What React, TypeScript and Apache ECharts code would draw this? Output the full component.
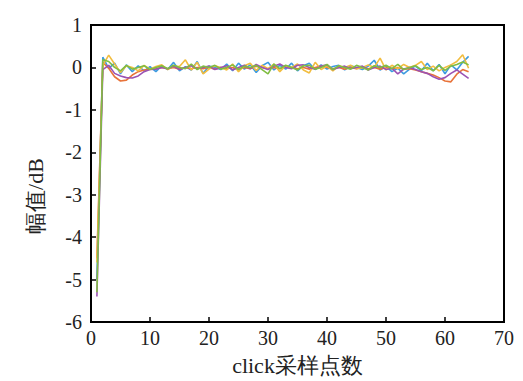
import React, { useEffect, useRef } from "react";
import * as echarts from "echarts";

const xValues: number[] = Array.from({ length: 64 }, (_, i) => i + 1);
const xTicks = [0, 10, 20, 30, 40, 50, 60, 70];
const yTicks = [-6, -5, -4, -3, -2, -1, 0, 1];

const blue = [-5.0, 0.24, -0.02, 0.1, -0.15, 0.06, -0.1, 0.04, -0.08, 0.02, -0.1, 0.04, -0.05, 0.12, -0.08, 0.02, -0.06, 0.14, -0.14, 0.03, 0.0, -0.05, 0.08, -0.08, 0.1, -0.04, 0.06, -0.12, 0.04, 0.12, -0.06, 0.05, -0.04, 0.1, -0.08, 0.04, 0.1, -0.05, 0.06, -0.04, 0.02, 0.05, -0.06, 0.04, 0.0, -0.05, 0.03, 0.17, -0.06, 0.03, -0.1, -0.02, -0.15, -0.04, 0.03, -0.08, 0.1, -0.08, 0.07, -0.15, 0.06, -0.06, 0.12, 0.26];
const yellow = [-4.6, 0.05, 0.29, 0.08, -0.12, 0.04, 0.0, -0.08, 0.05, -0.04, 0.02, 0.06, -0.05, 0.03, 0.02, 0.18, -0.06, 0.12, -0.15, -0.04, 0.04, 0.0, -0.06, 0.08, -0.1, 0.04, 0.1, -0.07, 0.05, -0.03, 0.08, -0.1, 0.04, 0.0, 0.08, -0.06, -0.13, 0.12, -0.05, 0.03, -0.08, 0.04, 0.0, 0.05, -0.03, 0.0, 0.06, 0.0, 0.22, -0.06, 0.05, -0.03, 0.07, 0.0, 0.05, 0.14, -0.05, 0.03, -0.08, 0.0, 0.06, 0.14, 0.3, -0.02];
const green = [-5.3, 0.18, 0.14, 0.0, -0.08, 0.05, -0.04, 0.0, 0.04, -0.05, 0.0, 0.04, -0.03, 0.05, 0.0, -0.03, 0.08, -0.05, 0.03, 0.0, 0.05, -0.04, 0.0, 0.06, -0.05, 0.03, 0.0, 0.05, -0.05, -0.15, 0.08, -0.03, 0.05, 0.0, -0.06, 0.04, 0.05, -0.04, 0.0, 0.07, -0.05, 0.04, 0.0, -0.04, 0.05, 0.0, -0.06, 0.04, 0.0, 0.05, -0.03, 0.07, -0.05, 0.0, 0.04, -0.05, 0.0, -0.08, 0.05, -0.07, 0.03, 0.07, 0.13, 0.06];
const purple = [-5.4, -0.05, 0.05, -0.14, -0.2, -0.24, -0.25, -0.2, -0.1, -0.05, -0.04, 0.0, -0.03, 0.03, -0.05, 0.0, 0.04, -0.03, 0.0, 0.03, -0.05, 0.0, 0.04, -0.06, 0.0, 0.05, -0.03, 0.07, 0.0, -0.05, 0.03, 0.08, 0.0, -0.03, 0.05, 0.06, 0.0, -0.04, 0.03, 0.06, -0.05, 0.0, 0.03, -0.03, 0.0, 0.03, -0.06, 0.0, 0.03, -0.05, -0.02, -0.15, -0.04, 0.0, -0.05, -0.1, -0.14, -0.22, -0.28, -0.24, -0.14, -0.06, -0.16, -0.26];
const orange = [-4.5, 0.12, -0.02, -0.22, -0.32, -0.3, -0.18, -0.1, -0.06, -0.04, -0.03, 0.0, -0.03, 0.0, -0.04, 0.0, -0.03, 0.0, -0.03, 0.0, -0.04, 0.0, -0.03, 0.0, -0.04, 0.0, -0.03, 0.03, 0.0, -0.03, 0.0, -0.03, 0.03, 0.0, -0.03, 0.0, -0.04, 0.0, 0.03, 0.0, -0.03, 0.0, -0.04, 0.0, -0.03, 0.0, -0.03, 0.0, -0.04, 0.0, -0.03, 0.0, -0.04, -0.03, -0.06, -0.1, -0.14, -0.18, -0.24, -0.32, -0.34, -0.16, -0.05, -0.1];

const seriesDefs = [
  { name: "s1", data: blue, color: "#3d9be0" },
  { name: "s2", data: orange, color: "#e8733a" },
  { name: "s3", data: yellow, color: "#f2bd3f" },
  { name: "s4", data: purple, color: "#9b52b3" },
  { name: "s5", data: green, color: "#80bd42" },
];

export default function App() {
  const ref = useRef<HTMLDivElement>(null);
  useEffect(() => {
    const chart = echarts.init(ref.current!, null, { renderer: "svg" });
    const font = "'Liberation Serif', 'Times New Roman', serif";
    chart.setOption({
      animation: false,
      backgroundColor: "#ffffff",
      textStyle: { fontFamily: font },
      grid: { left: 91, top: 25, right: 19, bottom: 53, show: true, borderColor: "#000", borderWidth: 2, backgroundColor: "transparent" },
      xAxis: {
        type: "value",
        min: xTicks[0],
        max: xTicks[xTicks.length - 1],
        interval: 10,
        name: "click采样点数",
        nameLocation: "middle",
        nameGap: 32,
        nameTextStyle: { fontFamily: font, fontSize: 22, color: "#222" },
        axisLine: { onZero: false, lineStyle: { color: "#000", width: 2 } },
        axisTick: { inside: true, length: 5, lineStyle: { color: "#000", width: 1.5 } },
        axisLabel: { fontFamily: font, fontSize: 20, color: "#222", margin: 6 },
        splitLine: { show: false },
      },
      yAxis: {
        type: "value",
        min: yTicks[0],
        max: yTicks[yTicks.length - 1],
        interval: 1,
        axisLine: { onZero: false, lineStyle: { color: "#000", width: 2 } },
        axisTick: { inside: true, length: 5, lineStyle: { color: "#000", width: 1.5 } },
        axisLabel: { fontFamily: font, fontSize: 20, color: "#222", margin: 9 },
        splitLine: { show: false },
      },
      graphic: [
        {
          type: "text",
          x: 35,
          y: 196,
          rotation: Math.PI / 2,
          style: { text: "幅值/dB", font: `22px ${font}`, fill: "#222", align: "center", verticalAlign: "middle" },
        },
      ],
      series: seriesDefs.map((s) => ({
        name: s.name,
        type: "line",
        data: s.data.map((v, i) => [xValues[i], v]),
        showSymbol: false,
        symbol: "none",
        lineStyle: { color: s.color, width: 1.6 },
        itemStyle: { color: s.color },
      })),
    });
    return () => chart.dispose();
  }, []);
  return <div ref={ref} style={{ position: "fixed", left: 0, top: 0, width: 523, height: 381 }} />;
}
